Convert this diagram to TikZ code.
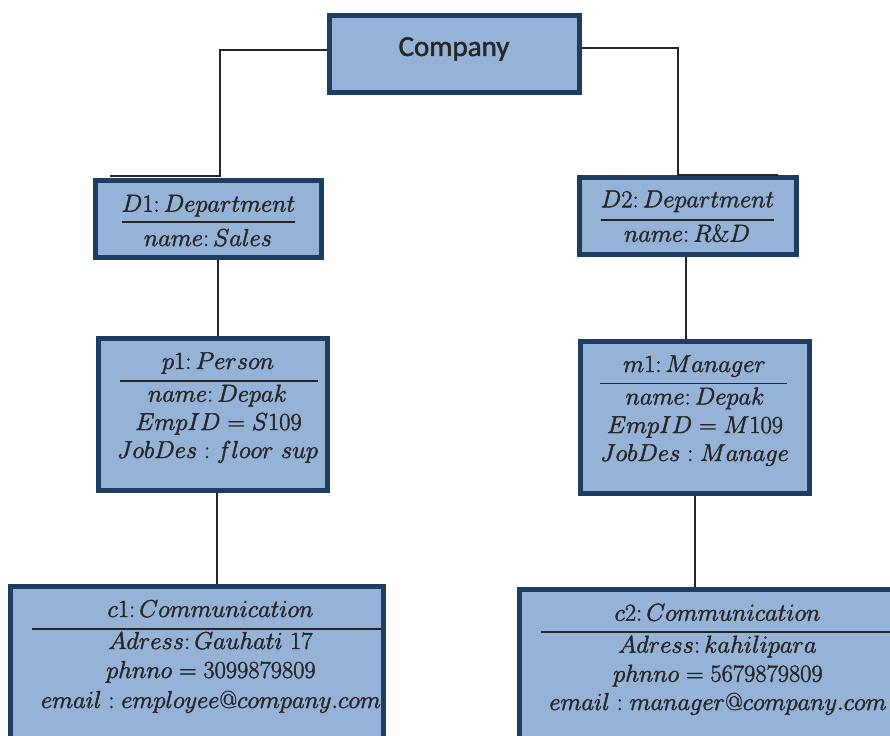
\RequirePackage{fix-cm}
\documentclass[tikz,border=0pt]{standalone}
\usepackage{fontspec}
\newfontfamily\cmpfont{Carlito}
\usetikzlibrary{calc}
\definecolor{boxfill}{HTML}{95B3D7}
\definecolor{boxedge}{HTML}{1F3D63}
\definecolor{ink}{HTML}{262626}
% slightly heavier glyphs: fill and stroke the text outlines
\newcommand\heavytext[1]{\special{pdf:literal direct 2 Tr 0.45 w}#1\special{pdf:literal direct 0 Tr}}

\begin{document}
\begin{tikzpicture}[x=1pt,y=-1pt,
  objbox/.style={rectangle, fill=boxfill, draw=boxedge, line width=5pt, inner sep=0pt},
  link/.style={draw=ink, line width=1.3pt},
  divider/.style={draw=ink, line width=1.6pt},
  attr/.style={anchor=base, inner sep=0pt, text=ink, font=\fontsize{24.5}{28}\selectfont},
  title/.style={anchor=base, inner sep=0pt, text=ink, font=\cmpfont\fontsize{29}{34}\selectfont},
]
\useasboundingbox (0,0) rectangle (890,735);
\clip (0,0) rectangle (890,735);
\fill[white] (0,0) rectangle (890,735);

% object boxes
\node[objbox, minimum width=250pt, minimum height=77pt] (company) at (454.5,54) {};
\node[objbox, minimum width=226pt, minimum height=77pt] (d1) at (208.5,219) {};
\node[objbox, minimum width=217pt, minimum height=77pt] (d2) at (688,216) {};
\node[objbox, minimum width=229pt, minimum height=152pt] (p1) at (213,414.5) {};
\node[objbox, minimum width=229pt, minimum height=152pt] (m1) at (695,417.5) {};
\node[objbox, minimum width=373pt, minimum height=183pt] (c1) at (197,678) {};
\node[objbox, minimum width=410pt, minimum height=180pt] (c2) at (724.5,679.5) {};

% connectors
\coordinate (d1bend) at (220,176);
\coordinate (d1hook) at (110,176);
\coordinate (d2bend) at (678,175);
\coordinate (d2hook) at (778,175);
\draw[link] ([yshift=4pt]company.west) -| (d1bend) -- (d1hook);
\draw[link] ([yshift=6pt]company.east) -| (d2bend) -- (d2hook);
\draw[link] ([xshift=9.5pt]d1.south) -- ([xshift=9.5pt]d1.south |- p1.north);
\draw[link] ([xshift=4pt]p1.south) -- ([xshift=4pt]p1.south |- c1.north);
\draw[link] ([xshift=-2pt]d2.south) -- ([xshift=-2pt]d2.south |- m1.north);
\draw[link] (m1.south) -- (m1.south |- c2.north);

% Company
\node[title] (companytxt) at (454,56) {\heavytext{Company}};

% D1 : Department
\node[attr] (d1a) at (208.5,211.7) {\heavytext{$D1\colon Department$}};
\draw[divider] (122,222) -- (295,222);
\node[attr] (d1b) at (208,246) {\heavytext{$name\colon Sales$}};

% D2 : Department
\node[attr] (d2a) at (687.5,207.3) {\heavytext{$D2\colon Department$}};
\draw[divider] (601,220) -- (774,220);
\node[attr] (d2b) at (687,241.7) {\heavytext{$name\colon R\&D$}};

% p1 : Person
\node[attr] (p1a) at (218,369) {\heavytext{$p1\colon Person$}};
\draw[divider] (120,380.7) -- (318,380.7);
\node[attr] (p1b) at (217.5,401.7) {\heavytext{$name\colon Depak$}};
\node[attr] (p1c) at (218.5,430) {\heavytext{$EmpID = S109$}};
\node[attr] (p1d) at (217.5,458) {\heavytext{$JobDes : floor\ sup$}};

% m1 : Manager
\node[attr] (m1a) at (694.5,372) {\heavytext{$m1\colon Manager$}};
\draw[divider] (600,383.5) -- (787,383.5);
\node[attr] (m1b) at (695,404.5) {\heavytext{$name\colon Depak$}};
\node[attr] (m1c) at (695,433) {\heavytext{$EmpID = M109$}};
\node[attr] (m1d) at (694.5,461) {\heavytext{$JobDes : Manage$}};

% c1 : Communication (text stops at the inner border)
\begin{scope}
  \clip (13,589) rectangle (381,735);
  \node[attr] (c1a) at (210.5,617) {\heavytext{$c1\colon Communication$}};
  \draw[divider] (32,629) -- (381,629);
  \node[attr] (c1b) at (210.5,649) {\heavytext{$Adress\colon Gauhati\ 17$}};
  \node[attr] (c1c) at (211,678) {\heavytext{$phnno = 3099879809$}};
  \node[attr] (c1d) at (211,708) {\heavytext{$email : employee@company.com$}};
\end{scope}

% c2 : Communication
\node[attr] (c2a) at (717.5,620.7) {\heavytext{$c2\colon Communication$}};
\draw[divider] (541,631.7) -- (890,631.7);
\node[attr] (c2b) at (717.5,652.7) {\heavytext{$Adress\colon kahilipara$}};
\node[attr] (c2c) at (718,681.7) {\heavytext{$phnno = 5679879809$}};
\node[attr] (c2d) at (718,710) {\heavytext{$email : manager@company.com$}};
\end{tikzpicture}
\end{document}
